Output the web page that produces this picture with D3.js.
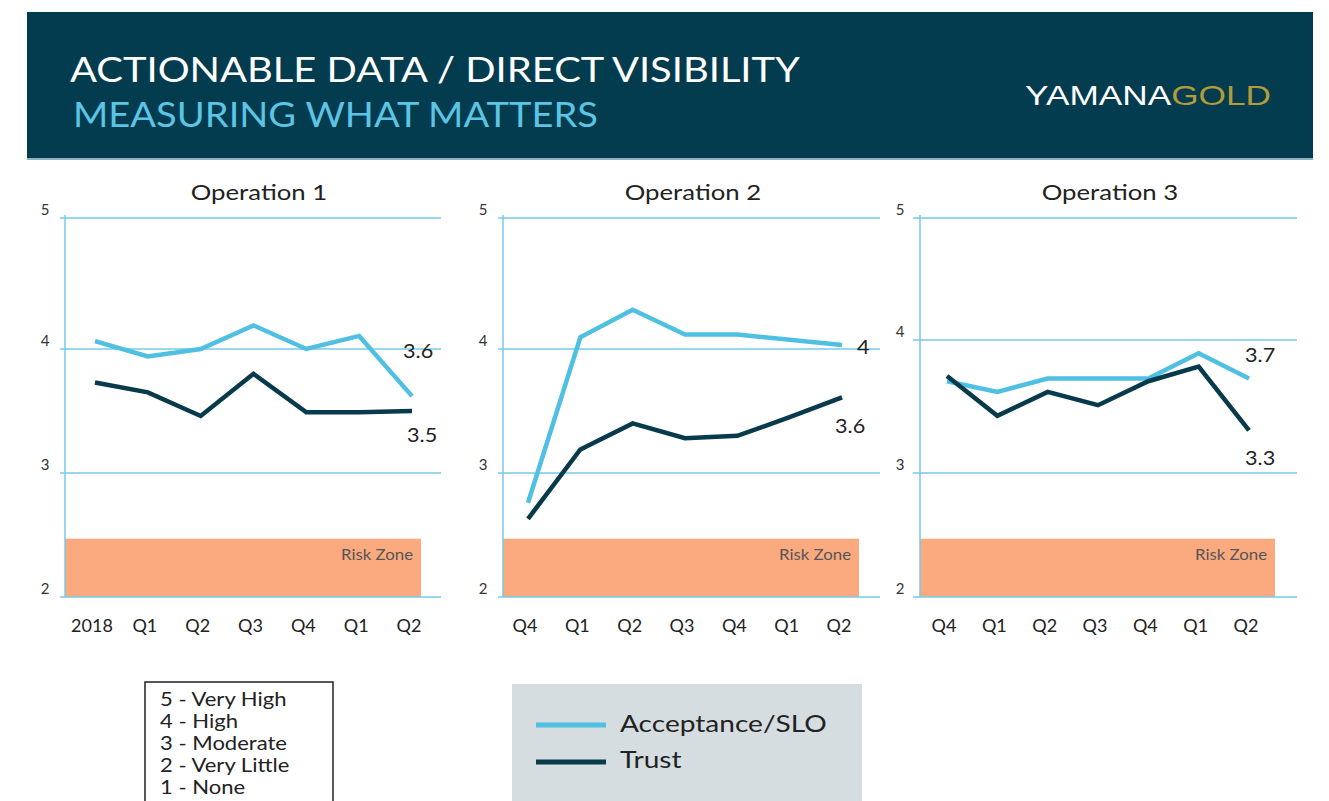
<!DOCTYPE html>
<html>
<head>
<meta charset="utf-8">
<script src="https://cdn.jsdelivr.net/npm/d3@7"></script>
<style>
  body { margin: 0; background: #fff; }
  text { font-family: "Lato", "DejaVu Sans", sans-serif; }
</style>
</head>
<body>
<div id="chart"></div>
<script>
// data
const labels1 = ["2018", "Q1", "Q2", "Q3", "Q4", "Q1", "Q2"];
const labels2 = ["Q4", "Q1", "Q2", "Q3", "Q4", "Q1", "Q2"];
const labels3 = ["Q4", "Q1", "Q2", "Q3", "Q4", "Q1", "Q2"];

const acceptance1 = [4.06, 3.94, 4.0, 4.18, 4.0, 4.1, 3.62];
const trust1 = [3.73, 3.65, 3.46, 3.8, 3.49, 3.49, 3.5];
const acceptance2 = [2.76, 4.09, 4.3, 4.11, 4.11, 4.07, 4.03];
const trust2 = [2.63, 3.19, 3.4, 3.28, 3.3, 3.45, 3.61];
const acceptance3 = [3.69, 3.61, 3.71, 3.71, 3.71, 3.9, 3.71];
const trust3 = [3.73, 3.43, 3.61, 3.51, 3.69, 3.8, 3.32];

const endLabels1 = ["3.6", "3.5"];
const endLabels2 = ["4", "3.6"];
const endLabels3 = ["3.7", "3.3"];

const yTicks = [2, 3, 4, 5];
const riskTop = 2.47;
const scaleLegend = ["5 - Very High", "4 - High", "3 - Moderate", "2 - Very Little", "1 - None"];
const seriesNames = ["Acceptance/SLO", "Trust"];

const colAcc = "#4fbfe2";
const colTrust = "#073a4a";
const colGrid = "#74cbe8";
const colRisk = "#fbaa80";

// stretch a text horizontally (the original face is wider than Lato)
function widen(sel, f) {
  sel.each(function () {
    const w = this.getComputedTextLength();
    d3.select(this).attr("textLength", w * f).attr("lengthAdjust", "spacingAndGlyphs");
  });
  return sel;
}

const W = 1329, H = 801;
const svg = d3.select("#chart").append("svg").attr("width", W).attr("height", H);

// header band
svg.append("rect").attr("x", 27).attr("y", 12).attr("width", 1286).attr("height", 146).attr("fill", "#033c4e");
svg.append("rect").attr("x", 27).attr("y", 158).attr("width", 1286).attr("height", 2).attr("fill", "#8fb3c0");
svg.append("text").attr("x", 70).attr("y", 82).attr("fill", "#fff").attr("font-size", 35)
  .attr("textLength", 730).attr("lengthAdjust", "spacingAndGlyphs")
  .text("ACTIONABLE DATA / DIRECT VISIBILITY");
svg.append("text").attr("x", 73).attr("y", 127).attr("fill", "#5cc4e4").attr("font-size", 35)
  .attr("textLength", 525).attr("lengthAdjust", "spacingAndGlyphs")
  .text("MEASURING WHAT MATTERS");
const logo = svg.append("text").attr("x", 1025).attr("y", 105).attr("font-size", 28)
  .style("font-family", "'Liberation Sans', sans-serif")
  .attr("textLength", 246).attr("lengthAdjust", "spacingAndGlyphs");
logo.append("tspan").attr("fill", "#fff").text("YAMANA");
logo.append("tspan").attr("fill", "#b39a3a").text("GOLD");

const panels = [
  { title: "Operation 1", labels: labels1, acc: acceptance1, trust: trust1, ends: endLabels1,
    axisX: 65, gridX0: 60, gridX1: 441, px0: 95, px1: 412, riskX1: 421, titleX: 259,
    yRange: [597, 473, 349, 218], endDx: [-9, -5], endY: [358, 442] },
  { title: "Operation 2", labels: labels2, acc: acceptance2, trust: trust2, ends: endLabels2,
    axisX: 503, gridX0: 498, gridX1: 880, px0: 528, px1: 842, riskX1: 859, titleX: 693,
    yRange: [597, 473, 349, 218], endDx: [15, -7], endY: [354, 433] },
  { title: "Operation 3", labels: labels3, acc: acceptance3, trust: trust3, ends: endLabels3,
    axisX: 920, gridX0: 913, gridX1: 1297, px0: 947, px1: 1249, riskX1: 1275, titleX: 1110,
    yRange: [597, 473, 340, 218], endDx: [-4, -4], endY: [362, 465] }
];

panels.forEach(p => {
  const g = svg.append("g");
  const y = d3.scaleLinear().domain(yTicks).range(p.yRange);
  const x = d3.scalePoint().domain(d3.range(p.labels.length)).range([p.px0, p.px1]);

  widen(g.append("text").attr("x", p.titleX).attr("y", 200).attr("text-anchor", "middle")
    .attr("font-size", 22).attr("fill", "#222").text(p.title), 1.17);

  // risk zone
  g.append("rect").attr("x", p.axisX).attr("y", y(riskTop))
    .attr("width", p.riskX1 - p.axisX).attr("height", y(2) - y(riskTop)).attr("fill", colRisk);
  widen(g.append("text").attr("x", p.riskX1 - 8).attr("y", y(2) - 37).attr("text-anchor", "end")
    .attr("font-size", 15).attr("fill", "#555").text("Risk Zone"), 1.12);

  // gridlines
  g.selectAll(".grid").data(yTicks).join("line")
    .attr("x1", p.gridX0).attr("x2", p.gridX1)
    .attr("y1", d => y(d)).attr("y2", d => y(d))
    .attr("stroke", colGrid).attr("stroke-width", 1.5);
  g.append("line").attr("x1", p.axisX).attr("x2", p.axisX).attr("y1", y(5) - 3).attr("y2", y(2))
    .attr("stroke", colGrid).attr("stroke-width", 1.5);
  g.selectAll(".ytick").data(yTicks).join("text")
    .attr("x", p.axisX - 20).attr("y", d => y(d) - 3).attr("text-anchor", "middle")
    .attr("font-size", 15).attr("fill", "#333").text(d => d);

  // x labels
  g.selectAll(".xtick").data(p.labels).join("text")
    .attr("x", (d, i) => x(i) - 3).attr("y", 632).attr("text-anchor", "middle")
    .attr("font-size", 18).attr("fill", "#222").text(d => d);

  const line = d3.line().x((d, i) => x(i)).y(d => y(d));
  g.append("path").attr("d", line(p.acc)).attr("fill", "none").attr("stroke", colAcc)
    .attr("stroke-width", 4.5).attr("stroke-linejoin", "miter");
  g.append("path").attr("d", line(p.trust)).attr("fill", "none").attr("stroke", colTrust)
    .attr("stroke-width", 4.5).attr("stroke-linejoin", "miter");

  const last = p.labels.length - 1;
  p.ends.forEach((t, k) => {
    widen(g.append("text").attr("x", x(last) + p.endDx[k]).attr("y", p.endY[k])
      .attr("font-size", 20).attr("fill", "#222").text(t), 1.08);
  });
});

// score key box
svg.append("rect").attr("x", 145).attr("y", 682).attr("width", 188).attr("height", 130)
  .attr("fill", "#fff").attr("stroke", "#222").attr("stroke-width", 1.5);
widen(svg.selectAll(".key").data(scaleLegend).join("text")
  .attr("x", 160).attr("y", (d, i) => 706 + i * 22)
  .attr("font-size", 19).attr("fill", "#222").text(d => d), 1.16);

// series legend
svg.append("rect").attr("x", 512).attr("y", 684).attr("width", 350).attr("height", 120).attr("fill", "#d6dde1");
[colAcc, colTrust].forEach((c, i) => {
  svg.append("line").attr("x1", 536).attr("x2", 606).attr("y1", 725 + i * 37).attr("y2", 725 + i * 37)
    .attr("stroke", c).attr("stroke-width", 5);
  widen(svg.append("text").attr("x", 620).attr("y", 732 + i * 36).attr("font-size", 23).attr("fill", "#222")
    .text(seriesNames[i]), 1.22);
});
</script>
</body>
</html>
